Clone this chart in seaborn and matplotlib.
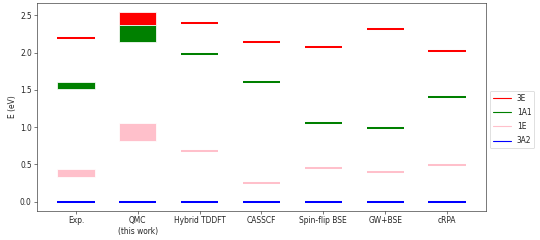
import matplotlib
matplotlib.use("Agg")
import matplotlib.pyplot as plt
from matplotlib.lines import Line2D
import seaborn as sns

# excitation energies (eV) of the NV- centre, low / high estimate per method
methods = ["Exp.", "QMC\n(this work)", "Hybrid TDDFT", "CASSCF",
           "Spin-flip BSE", "GW+BSE", "cRPA"]
states = ["3E", "1A1", "1E", "3A2"]
state_colors = ["red", "green", "pink", "blue"]

e_3E_lo = [2.20, 2.37, 2.40, 2.14, 2.07, 2.32, 2.02]
e_3E_hi = [2.20, 2.54, 2.40, 2.14, 2.07, 2.32, 2.02]
e_1A1_lo = [1.51, 2.14, 1.98, 1.60, 1.05, 0.99, 1.41]
e_1A1_hi = [1.60, 2.37, 1.98, 1.60, 1.05, 0.99, 1.41]
e_1E_lo = [0.335, 0.81, 0.68, 0.25, 0.45, 0.40, 0.49]
e_1E_hi = [0.435, 1.06, 0.68, 0.25, 0.45, 0.40, 0.49]
e_3A2_lo = [0.0, 0.0, 0.0, 0.0, 0.0, 0.0, 0.0]
e_3A2_hi = [0.0, 0.0, 0.0, 0.0, 0.0, 0.0, 0.0]

ranges = {
    "3E": (e_3E_lo, e_3E_hi),
    "1A1": (e_1A1_lo, e_1A1_hi),
    "1E": (e_1E_lo, e_1E_hi),
    "3A2": (e_3A2_lo, e_3A2_hi),
}

sns.set_style("ticks")
plt.rcParams["font.family"] = ["DejaVu Sans"]

fig, ax = plt.subplots(figsize=(10, 240 / 54), dpi=54)
fig.subplots_adjust(left=0.0685, right=0.9, bottom=0.121, top=0.9875)

w = 0.6
for state, color in zip(states, state_colors):
    lo, hi = ranges[state]
    for i in range(len(methods)):
        if hi[i] > lo[i]:
            ax.bar(i, hi[i] - lo[i], bottom=lo[i], width=w, color=color)
        else:
            ax.hlines(lo[i], i - w / 2, i + w / 2, color=color, lw=2.7)

ax.set_xticks(range(len(methods)))
ax.set_xticklabels(methods)
ax.set_ylabel("E (eV)")

handles = [Line2D([0], [0], color=c, lw=1.5) for c in state_colors]
ax.legend(handles, states, loc="center left", bbox_to_anchor=(1, 0.44),
          handlelength=2.4, labelspacing=0.7)

fig.savefig("out.png", dpi=54)
